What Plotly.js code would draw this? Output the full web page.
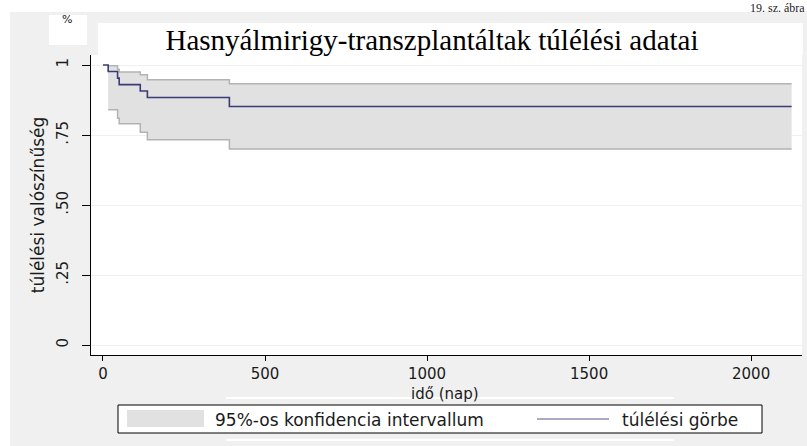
<!DOCTYPE html>
<html>
<head>
<meta charset="utf-8">
<script src="https://cdn.plot.ly/plotly-3.0.1.min.js"></script>
<style>html,body{margin:0;padding:0;background:#fff;}#chart{width:807px;height:446px;}</style>
</head>
<body>
<div id="chart"></div>
<script>
// ---- data ----
const survTimes = [0, 16, 45, 50, 115, 137, 390, 2125];
const survValues = [1, 0.977, 0.953, 0.930, 0.907, 0.884, 0.852, 0.852];
const ciTimes = [16, 45, 50, 115, 137, 390, 2125];
const ciLower = [0.84, 0.81, 0.79, 0.76, 0.733, 0.70, 0.70];
const ciUpper = [0.997, 0.985, 0.975, 0.965, 0.947, 0.933, 0.933];
const xTickVals = [0, 500, 1000, 1500, 2000];
const xTickText = ['0', '500', '1000', '1500', '2000'];
const yTickVals = [0, 0.25, 0.5, 0.75, 1];
const yTickText = ['0', '.25', '.50', '.75', '1'];
const chartTitle = 'Hasnyálmirigy-transzplantáltak túlélési adatai';
const xTitle = 'idő (nap)';
const yTitle = 'túlélési valószínűség';
const bandName = '95%-os konfidencia intervallum';
const lineName = 'túlélési görbe';
const figLabel = '19. sz. ábra';

// ---- layout geometry ----
const W = 807, H = 446;
const M = {l: 91, r: 5, t: 55, b: 91};
const PW = W - M.l - M.r, PH = H - M.t - M.b;
const px = x => (x - M.l) / PW;
const py = y => (H - M.b - y) / PH;
const SANS = 'DejaVu Sans';
const TXT = '#1a1a1a';
const BAND = '#e1e1e1', BANDLINE = '#b3b3b3', CURVE = '#3b3b78';

const traces = [
  {x: ciTimes, y: ciLower, type: 'scatter', mode: 'lines', name: bandName,
   line: {shape: 'hv', color: BANDLINE, width: 1.5}, showlegend: false, hoverinfo: 'skip'},
  {x: ciTimes, y: ciUpper, type: 'scatter', mode: 'lines', name: bandName,
   line: {shape: 'hv', color: BANDLINE, width: 1.5}, fill: 'tonexty', fillcolor: BAND,
   showlegend: false, hoverinfo: 'skip'},
  {x: survTimes, y: survValues, type: 'scatter', mode: 'lines', name: lineName,
   line: {shape: 'hv', color: CURVE, width: 1.6}, showlegend: false}
];

function rect(x0, y0, x1, y1, fill, line, layer) {
  return {type: 'rect', xref: 'paper', yref: 'paper', x0: px(x0), x1: px(x1), y0: py(y1), y1: py(y0),
          fillcolor: fill, line: line || {width: 0}, layer: layer || 'below'};
}
function hline(x0, x1, y, color, width) {
  return {type: 'line', xref: 'paper', yref: 'paper', x0: px(x0), x1: px(x1), y0: py(y), y1: py(y),
          line: {color: color, width: width}, layer: 'above'};
}
function label(text, x, y, size, anchor, family, yanchor) {
  return {text: text, xref: 'paper', yref: 'paper', x: px(x), y: py(y), showarrow: false,
          xanchor: anchor || 'left', yanchor: yanchor || 'middle', borderpad: 0,
          font: {family: family || SANS, size: size, color: TXT}};
}

const shapes = [
  rect(0, 0, W, 12, '#ffffff'),
  rect(0, 0, 10, H, '#ffffff'),
  rect(49, 15, 87, 45, '#ffffff'),
  rect(98, 23, 803, 55, '#ffffff'),
  hline(226, 674, 398, '#ffffff', 2),
  hline(226, 674, 440, '#ffffff', 2),
  rect(118, 405, 762, 433, '#ffffff', {color: '#000000', width: 1}, 'above'),
  rect(127, 410, 204, 427, BAND, {width: 0}, 'above'),
  hline(537, 609, 419, '#55558c', 1)
];

const annotations = [
  label('%', 67, 20, 11, 'center'),
  label(figLabel, 806, 0, 12, 'right', 'Liberation Serif', 'top'),
  label(xTitle, 445, 394, 15, 'center'),
  label(bandName, 214, 419.5, 17),
  label(lineName, 621, 419.5, 17)
];

const layout = {
  width: W, height: H,
  margin: M,
  paper_bgcolor: '#f0f0f0',
  plot_bgcolor: '#ffffff',
  showlegend: false,
  title: {text: chartTitle, x: 432 / W, xanchor: 'center', y: 1 - 40 / H, yanchor: 'middle',
          font: {family: 'Liberation Serif', size: 29, color: '#000'}},
  xaxis: {
    range: [-37, 2157], tickvals: xTickVals, ticktext: xTickText,
    ticks: 'outside', ticklen: 5, tickwidth: 1, tickcolor: '#000',
    showline: true, linecolor: '#000', linewidth: 1,
    showgrid: false, zeroline: false,
    tickfont: {family: SANS, size: 15, color: TXT}
  },
  yaxis: {
    range: [-10 / 280, 1 + 10 / 280], tickvals: yTickVals, ticktext: yTickText,
    ticks: 'outside', ticklen: 8, tickwidth: 1, tickcolor: '#000', tickangle: -90,
    ticklabelstandoff: 8,
    showline: true, linecolor: '#000', linewidth: 1,
    showgrid: true, gridcolor: '#efefef', gridwidth: 1, zeroline: false,
    tickfont: {family: SANS, size: 15, color: TXT},
    title: {text: yTitle, standoff: 5, font: {family: SANS, size: 17, color: TXT}}
  },
  shapes: shapes,
  annotations: annotations
};

Plotly.newPlot('chart', traces, layout, {displayModeBar: false, staticPlot: true});
</script>
</body>
</html>
